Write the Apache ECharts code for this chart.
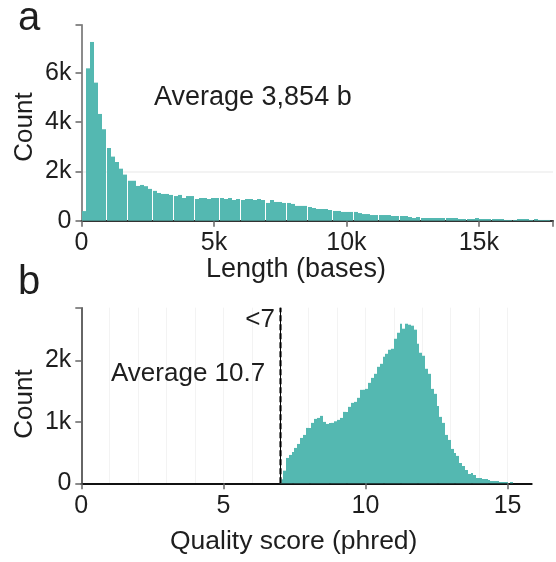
<!DOCTYPE html>
<html>
<head>
<meta charset="utf-8">
<script src="https://cdn.jsdelivr.net/npm/echarts@6/dist/echarts.min.js"></script>
<style>
  html, body { margin: 0; padding: 0; background: #ffffff; }
  #chart { width: 556px; height: 562px; }
</style>
</head>
<body>
<div id="chart"></div>
<script>
// Panel a: read length histogram, equal-width bins starting at 0 bases
const lengthBinWidth = 158;
const lengthCounts = [
  390, 6180, 7250, 5600, 4330, 3710, 2950, 2600, 2380, 2110,
  1870, 1620, 1620, 1410, 1450, 1400, 1290, 1210, 1125, 1085,
  1085, 1045, 1000, 1045, 920, 1000, 1000, 880, 920, 920,
  880, 920, 920, 920, 880, 920, 840, 880, 840, 880,
  880, 840, 880, 840, 720, 840, 760, 760, 720, 720,
  680, 600, 600, 600, 555, 515, 475, 475, 475, 435,
  395, 395, 355, 355, 355, 355, 310, 270, 270, 230,
  230, 230, 230, 230, 190, 190, 190, 190, 150, 110,
  150, 110, 110, 110, 110, 110, 110, 110, 110, 110,
  70, 70, 70, 70, 110, 70, 70, 70, 70, 70,
  70, 30, 30, 30, 70, 70, 70, 30, 70, 30,
  30, 30
];
const lengthTicks = [0, 5000, 10000, 15000];
const lengthAverage = '3,854';

// Panel b: read quality histogram, 0.1 phred bins starting at the cutoff
const qualityCutoff = 7;
const qualityBinWidth = 0.1;
const qualityCounts = [
  65, 206, 413, 462, 511, 576, 641, 739, 788, 902,
  902, 984, 1049, 1065, 1098, 1000, 967, 984, 984, 1010,
  1033, 1065, 1163, 1163, 1245, 1310, 1326, 1392, 1522, 1522,
  1538, 1636, 1717, 1783, 1897, 1946, 2060, 2109, 2175, 2191,
  2354, 2452, 2599, 2518, 2599, 2583, 2567, 2502, 2273, 2126,
  2077, 1865, 1783, 1538, 1457, 1261, 1082, 984, 788, 706,
  560, 494, 446, 331, 282, 217, 152, 168, 135, 86,
  86, 70, 70, 54, 37, 37, 37, 21, 21, 21,
  0, 21
];
const qualityTicks = [0, 5, 10, 15];
const qualityAverage = '10.7';

const teal = '#54b8b1';
const ink = '#1e1e1e';
const fontFamily = '"Liberation Sans", Arial, Helvetica, sans-serif';

const lengthData = lengthCounts.map((c, i) => [i * lengthBinWidth, (i + 1) * lengthBinWidth, c]);
const qualityData = qualityCounts.map((c, i) => [
  +(qualityCutoff + i * qualityBinWidth).toFixed(2),
  +(qualityCutoff + (i + 1) * qualityBinWidth).toFixed(2),
  c
]);

function kFormat(v) {
  if (v === 0) return '0';
  return (v / 1000) + 'k';
}

// Length bars snap to whole pixels, leaving hairline gaps where rounding accumulates
function lengthBar(params, api) {
  const top = api.coord([api.value(0), api.value(2)]);
  const base = api.coord([api.value(1), 0]);
  const x = Math.round(top[0]);
  const w = Math.floor(base[0] - top[0]);
  return {
    type: 'rect',
    shape: { x: x, y: top[1], width: w, height: base[1] - top[1] },
    style: { fill: teal }
  };
}

// Quality bars share pixel-rounded edges so neighbours butt together cleanly
function qualityBar(params, api) {
  const top = api.coord([api.value(0), api.value(2)]);
  const base = api.coord([api.value(1), 0]);
  const x0 = Math.round(top[0]);
  const x1 = Math.round(base[0]);
  return {
    type: 'rect',
    shape: { x: x0, y: top[1], width: x1 - x0, height: base[1] - top[1] },
    style: { fill: teal }
  };
}

const tickLabel = { color: ink, fontSize: 25, fontFamily: fontFamily };

const chart = echarts.init(document.getElementById('chart'), null, { renderer: 'canvas' });

chart.setOption({
  animation: false,
  backgroundColor: '#ffffff',
  grid: [
    { left: 81.5, right: -2, top: 24.7, bottom: 341.3 },
    { left: 81.3, right: 24.3, top: 307.7, bottom: 78.7 }
  ],
  xAxis: [
    {
      gridIndex: 0, type: 'value', min: 0, max: 17800, interval: 5000,
      axisLine: { show: true, lineStyle: { color: '#333333', width: 2 } },
      axisTick: { show: true, length: 6, lineStyle: { color: '#666666', width: 1.5 } },
      axisLabel: Object.assign({ margin: 10, formatter: v => (lengthTicks.indexOf(v) >= 0 ? kFormat(v) : '') }, tickLabel),
      splitLine: { show: false }
    },
    {
      gridIndex: 1, type: 'value', min: 0, max: 15.85, interval: 5,
      axisLine: { show: true, lineStyle: { color: '#111111', width: 2 } },
      axisTick: { show: true, length: 6, customValues: qualityTicks, lineStyle: { color: '#666666', width: 1.5 } },
      axisLabel: Object.assign({ margin: 10, customValues: qualityTicks, formatter: v => String(v) }, tickLabel),
      splitLine: { show: false }
    },
    {
      // faint guides at every whole phred value
      gridIndex: 1, type: 'value', min: 0, max: 15.85, interval: 1, position: 'bottom', z: -1,
      axisLine: { show: false }, axisTick: { show: false }, axisLabel: { show: false },
      splitLine: { show: true, showMinLine: false, showMaxLine: false, lineStyle: { color: '#f3f3f3', width: 1 } }
    }
  ],
  yAxis: [
    {
      gridIndex: 0, type: 'value', min: 0, max: 7950, interval: 2000,
      axisLine: { show: true, lineStyle: { color: '#666666', width: 1.5 } },
      axisTick: { show: true, length: 6, lineStyle: { color: '#666666', width: 1.5 } },
      axisLabel: Object.assign({ margin: 10, formatter: v => (v % 2000 === 0 ? kFormat(v) : '') }, tickLabel),
      splitLine: {
        show: true,
        lineStyle: { color: ['rgba(0,0,0,0)', '#efefef', 'rgba(0,0,0,0)', 'rgba(0,0,0,0)', 'rgba(0,0,0,0)'], width: 1.5 }
      }
    },
    {
      gridIndex: 1, type: 'value', min: 0, max: 2860, interval: 1000,
      axisLine: { show: true, lineStyle: { color: '#333333', width: 1.5 } },
      axisTick: { show: true, length: 6, lineStyle: { color: '#666666', width: 1.5 } },
      axisLabel: Object.assign({ margin: 10, formatter: v => (v % 1000 === 0 ? kFormat(v) : '') }, tickLabel),
      splitLine: { show: false }
    }
  ],
  series: [
    {
      type: 'custom', xAxisIndex: 0, yAxisIndex: 0,
      renderItem: lengthBar,
      encode: { x: [0, 1], y: 2 },
      data: lengthData, z: 2
    },
    {
      type: 'custom', xAxisIndex: 1, yAxisIndex: 1,
      renderItem: qualityBar,
      encode: { x: [0, 1], y: 2 },
      data: qualityData, z: 2,
      markLine: {
        silent: true, symbol: 'none', label: { show: false }, z: 5,
        data: [
          { xAxis: qualityCutoff, lineStyle: { color: '#444444', width: 2.5, type: [6, 3] } },
          { xAxis: qualityCutoff, lineStyle: { color: '#000000', width: 1, type: 'solid' } }
        ]
      }
    }
  ],
  graphic: [
    { type: 'text', x: 18, y: 19, style: { text: 'a', font: '40px ' + fontFamily, fill: ink, align: 'left', verticalAlign: 'middle' } },
    { type: 'text', x: 18, y: 283, style: { text: 'b', font: '40px ' + fontFamily, fill: ink, align: 'left', verticalAlign: 'middle' } },
    { type: 'text', x: 25, y: 127, rotation: Math.PI / 2, style: { text: 'Count', font: '26px ' + fontFamily, fill: ink, align: 'center', verticalAlign: 'middle' } },
    { type: 'text', x: 25, y: 404, rotation: Math.PI / 2, style: { text: 'Count', font: '26px ' + fontFamily, fill: ink, align: 'center', verticalAlign: 'middle' } },
    { type: 'text', x: 206, y: 270, style: { text: 'Length (bases)', font: '27px ' + fontFamily, fill: ink, align: 'left', verticalAlign: 'middle' } },
    { type: 'text', x: 170, y: 542, style: { text: 'Quality score (phred)', font: '26.5px ' + fontFamily, fill: ink, align: 'left', verticalAlign: 'middle' } },
    { type: 'text', x: 154, y: 98, style: { text: 'Average ' + lengthAverage + ' b', font: '27px ' + fontFamily, fill: ink, align: 'left', verticalAlign: 'middle' } },
    { type: 'text', x: 111, y: 374, style: { text: 'Average ' + qualityAverage, font: '26px ' + fontFamily, fill: ink, align: 'left', verticalAlign: 'middle' } },
    { type: 'text', x: 275, y: 320, style: { text: '<' + qualityCutoff, font: '26px ' + fontFamily, fill: ink, align: 'right', verticalAlign: 'middle' } }
  ]
});
</script>
</body>
</html>
